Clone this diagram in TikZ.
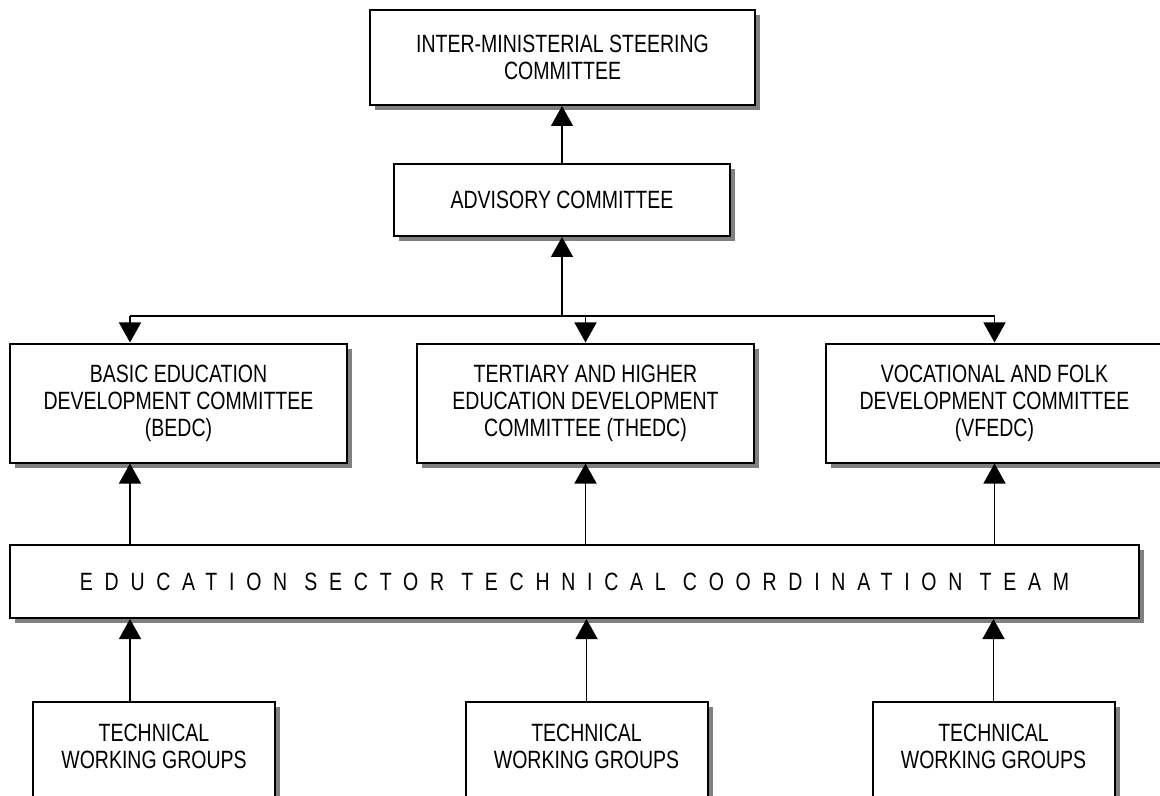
\documentclass[tikz,border=0pt]{standalone}
\usepackage{fontspec}
\setmainfont{Liberation Sans}[FakeStretch=0.78]
\usetikzlibrary{shadows,arrows.meta}

\tikzset{
  box/.style={draw, line width=1pt, fill=white, align=center, inner sep=0pt,
    drop shadow={shadow xshift=2.5pt, shadow yshift=-2.5pt, fill=gray, opacity=1}},
  cmte/.style={box, minimum width=168.5pt, minimum height=59.5pt},
  twg/.style={box, anchor=north, minimum width=121pt, text height=33pt, text depth=40pt},
  arr/.style={line width=0.7pt, -{Triangle[length=10pt,width=11pt]}},
}

\begin{document}
\begin{tikzpicture}[x=0.5pt, y=-0.5pt, font=\fontsize{12.5}{13.5}\selectfont]
  \useasboundingbox (0,0) rectangle (1160,796);
  \clip (0,0) rectangle (1160,796);

  % Top of the structure
  \node[box, minimum width=192.5pt, minimum height=47.5pt] (isc) at (562.5,57.5)
    {INTER-MINISTERIAL STEERING\\COMMITTEE};
  \node[box, minimum width=168pt, minimum height=36pt] (adv) at (562,200)
    {ADVISORY COMMITTEE};

  % Development committees
  \node[cmte] (bedc) at (178.5,403) {BASIC EDUCATION\\DEVELOPMENT COMMITTEE\\(BEDC)};
  \node[cmte] (thedc) at (585.5,403) {TERTIARY AND HIGHER\\EDUCATION DEVELOPMENT\\COMMITTEE (THEDC)};
  \node[cmte] (vfedc) at (994.5,403) {VOCATIONAL AND FOLK\\DEVELOPMENT COMMITTEE\\(VFEDC)};

  % Coordination team
  \node[box, minimum width=564.5pt, minimum height=36.5pt] (estc) at (574.5,581.5)
    {\addfontfeatures{LetterSpace=47}EDUCATION SECTOR TECHNICAL COORDINATION TEAM};

  % Working groups
  \node[twg] (twgA) at (154,701) {TECHNICAL\\WORKING GROUPS};
  \node[twg] (twgB) at (586.5,701) {TECHNICAL\\WORKING GROUPS};
  \node[twg] (twgC) at (993.5,701) {TECHNICAL\\WORKING GROUPS};

  % Connectors
  \coordinate (cA) at (130,316);
  \coordinate (j) at (562,316);
  \draw[line width=0.7pt] (cA) -- (cA -| vfedc);
  \draw[arr] (j) -- (adv.south);
  \draw[arr] (adv.north) -- (isc.south -| adv.north);
  \draw[arr] (cA) -- (cA |- bedc.north);
  \draw[arr] (cA -| thedc) -- (thedc.north);
  \draw[arr] (cA -| vfedc) -- (vfedc.north);

  \draw[arr] (estc.north -| cA) -- (bedc.south -| cA);
  \draw[arr] (estc.north -| thedc) -- (thedc.south);
  \draw[arr] (estc.north -| vfedc) -- (vfedc.south);

  \draw[arr] (twgA.north -| cA) -- (estc.south -| cA);
  \draw[arr] (twgB.north) -- (estc.south -| twgB);
  \draw[arr] (twgC.north) -- (estc.south -| twgC);
\end{tikzpicture}
\end{document}
